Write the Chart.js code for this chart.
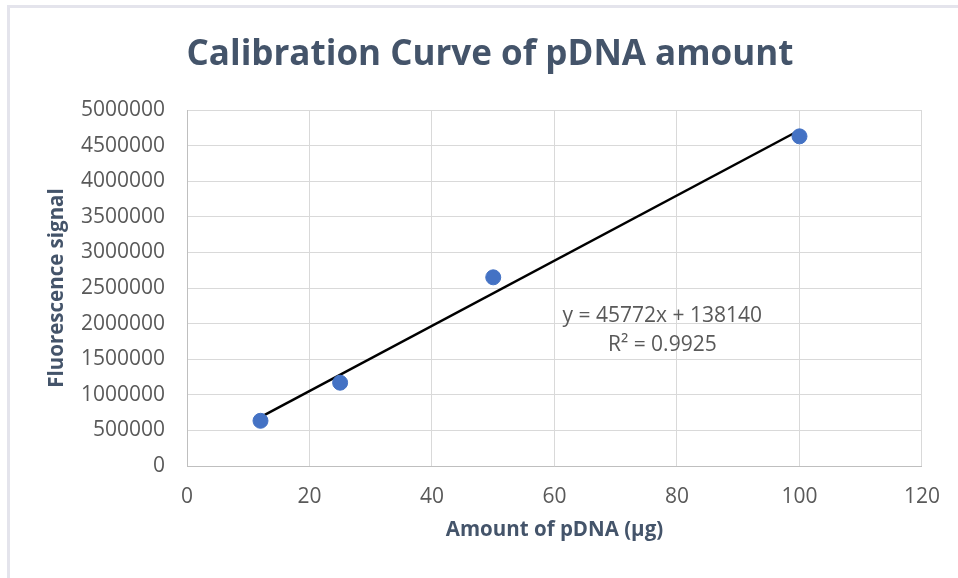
<!DOCTYPE html>
<html>
<head>
<meta charset="utf-8">
<script src="https://cdn.jsdelivr.net/npm/chart.js@4/dist/chart.umd.min.js"></script>
<style>
  html, body { margin: 0; padding: 0; background: #ffffff; }
  #wrap { position: relative; width: 958px; height: 578px; }
  #frame { position: absolute; left: 7px; top: 5px; right: 0; bottom: 0;
           border-top: 3px solid #E4E4EC; border-left: 3px solid #E4E4EC; pointer-events: none; }
  canvas { display: block; }
</style>
</head>
<body>
<div id="wrap">
  <canvas id="c" width="958" height="578"></canvas>
  <div id="frame"></div>
</div>
<script>
// ---- data ----
const chartTitle = "Calibration Curve of pDNA amount";
const xAxisTitle = "Amount of pDNA (µg)";
const yAxisTitle = "Fluorescence signal";
const pdnaAmount = [12, 25, 50, 100];
const fluorescence = [635000, 1170000, 2650000, 4630000];
const trendX = [12, 100];
const trendY = [687404, 4715340];
const equationLines = ["y = 45772x + 138140", "R\u00B2 = 0.9925"];
const xTicks = { min: 0, max: 120, step: 20 };
const yTicks = { min: 0, max: 5000000, step: 500000 };

const FONT = "'Open Sans', 'Liberation Sans', sans-serif";

const titlePlugin = {
  id: 'customTitle',
  afterDraw(chart) {
    const ctx = chart.ctx;
    ctx.save();
    ctx.font = "bold 35px " + FONT;
    ctx.fillStyle = "#44546A";
    ctx.textAlign = "center";
    ctx.textBaseline = "middle";
    ctx.fillText(chartTitle, 490, 55);
    ctx.restore();
  }
};

const equationPlugin = {
  id: 'equation',
  afterDatasetsDraw(chart) {
    const ctx = chart.ctx;
    const xs = chart.scales.x, ys = chart.scales.y;
    const cx = xs.getPixelForValue(77.6);
    const y1 = ys.getPixelForValue(2110000);
    const y2 = ys.getPixelForValue(1700000);
    ctx.save();
    ctx.font = "21px " + FONT;
    ctx.fillStyle = "#595959";
    ctx.textAlign = "center";
    ctx.textBaseline = "middle";
    ctx.fillText(equationLines[0], cx, y1);
    ctx.fillText(equationLines[1], cx, y2);
    ctx.restore();
  }
};

new Chart(document.getElementById('c'), {
  type: 'scatter',
  data: {
    datasets: [
      {
        label: 'Trendline',
        type: 'line',
        data: trendX.map((x, i) => ({ x: x, y: trendY[i] })),
        borderColor: '#000000',
        borderWidth: 2.5,
        pointRadius: 0,
        fill: false,
        order: 2
      },
      {
        label: 'Fluorescence',
        data: pdnaAmount.map((x, i) => ({ x: x, y: fluorescence[i] })),
        backgroundColor: '#4472C4',
        borderColor: '#4472C4',
        pointRadius: 7.5,
        pointHoverRadius: 7.5,
        order: 1
      }
    ]
  },
  options: {
    responsive: false,
    animation: false,
    devicePixelRatio: 1,
    layout: { padding: { top: 110, left: 0, right: 36, bottom: 0 } },
    plugins: {
      legend: { display: false },
      tooltip: { enabled: false },
      title: { display: false }
    },
    scales: {
      x: {
        type: 'linear',
        min: xTicks.min, max: xTicks.max,
        afterFit(scale) { scale.height = 112; },
        ticks: {
          stepSize: xTicks.step,
          color: '#595959',
          font: { family: FONT, size: 21 },
          padding: 18,
          maxRotation: 0
        },
        grid: { color: '#D9D9D9', lineWidth: 1, drawTicks: false },
        border: { color: '#BFBFBF', width: 1 },
        title: {
          display: true,
          text: xAxisTitle,
          color: '#44546A',
          font: { family: FONT, size: 20.5, weight: 'bold' },
          padding: { top: 0, bottom: 36 }
        }
      },
      y: {
        type: 'linear',
        min: yTicks.min, max: yTicks.max,
        afterFit(scale) { scale.width = 187; },
        ticks: {
          stepSize: yTicks.step,
          color: '#595959',
          font: { family: FONT, size: 21 },
          padding: 22,
          callback: (v) => String(v)
        },
        grid: { color: '#D9D9D9', lineWidth: 1, drawTicks: false },
        border: { color: '#BFBFBF', width: 1 },
        title: {
          display: true,
          text: yAxisTitle,
          color: '#44546A',
          font: { family: FONT, size: 20.5, weight: 'bold' },
          padding: { top: 45, bottom: 0 }
        }
      }
    }
  },
  plugins: [titlePlugin, equationPlugin]
});
</script>
</body>
</html>
